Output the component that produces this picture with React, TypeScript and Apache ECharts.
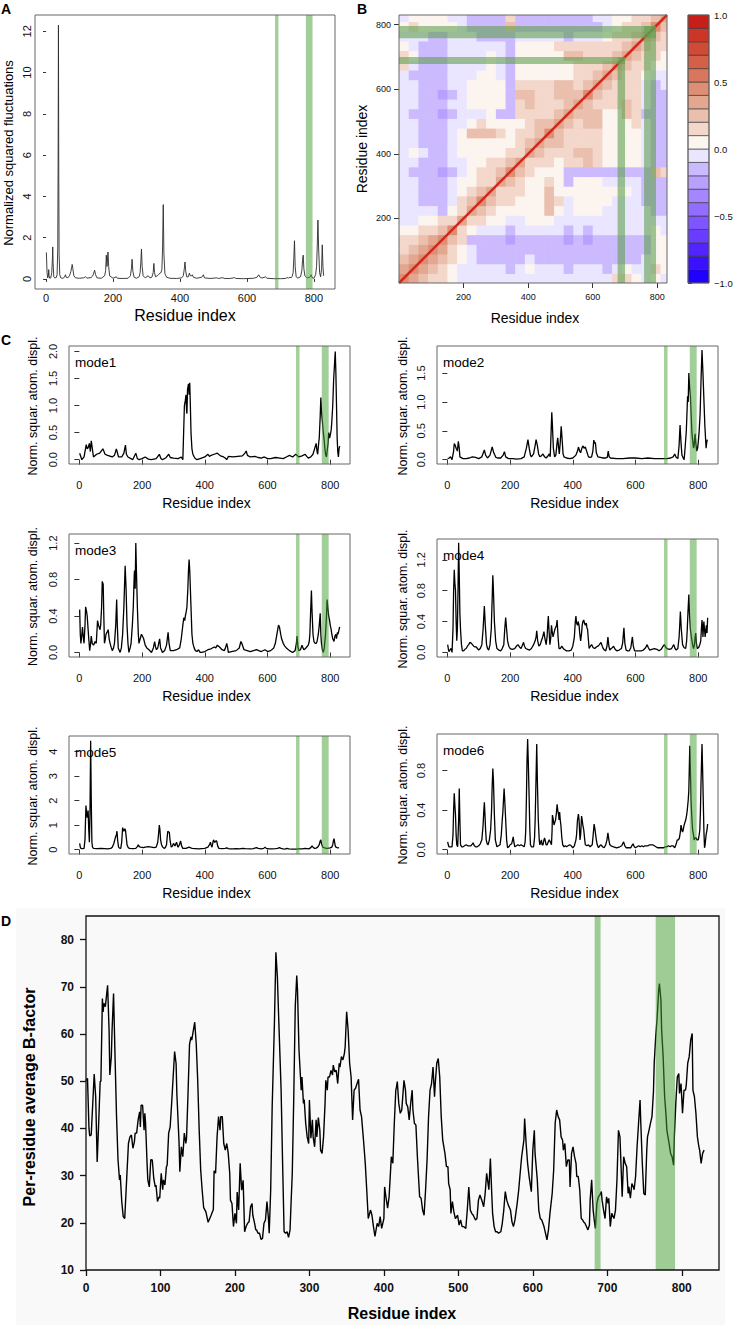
import React, { useEffect, useRef } from "react";
import * as echarts from "echarts";

const FONT = '"Liberation Sans", Arial, Helvetica, sans-serif';

// ---------------- DATA ----------------
const residueTicks = [0, 200, 400, 600, 800];
const bFactorXTicks = [0, 100, 200, 300, 400, 500, 600, 700, 800];
const bFactorYTicks = [10, 20, 30, 40, 50, 60, 70, 80];
const fluctTicks = [0, 2, 4, 6, 8, 10, 12];
const corrTicks = [200, 400, 600, 800];
const colorTicks = [-1, -0.5, 0, 0.5, 1];

// Panel A: normalized squared fluctuations
const fluctuations = [[1,1.28],[3,0.3],[5,0.05],[7,0.15],[8,0.45],[9,0.15],[11,0.03],[14,0.05],[17,0.3],[19,1.0],[20,1.55],[21,0.8],[23,0.1],[26,0.05],[30,0.06],[33,0.2],[35,1.5],[36,5.5],[37,12.3],[38,5],[39,1.2],[41,0.2],[44,0.05],[50,0.03],[55,0.08],[58,0.2],[60,0.08],[65,0.05],[70,0.15],[74,0.35],[77,0.6],[78,0.7],[80,0.5],[83,0.15],[88,0.05],[100,0.03],[112,0.05],[118,0.1],[122,0.04],[135,0.06],[141,0.2],[145,0.42],[148,0.2],[152,0.05],[165,0.03],[175,0.15],[178,0.4],[180,1.15],[182,0.6],[185,1.3],[187,0.6],[190,0.15],[200,0.03],[210,0.1],[213,0.03],[230,0.02],[245,0.03],[252,0.15],[255,0.5],[257,0.95],[259,0.4],[263,0.08],[270,0.03],[278,0.1],[281,0.3],[283,0.8],[285,1.45],[287,0.6],[290,0.15],[296,0.05],[305,0.15],[310,0.05],[316,0.08],[320,0.3],[322,0.75],[324,0.3],[327,0.1],[332,0.15],[336,0.2],[340,0.28],[343,0.3],[346,0.45],[348,1.5],[350,3.6],[352,1.2],[355,0.25],[360,0.08],[370,0.03],[390,0.02],[405,0.05],[410,0.15],[413,0.5],[415,0.82],[417,0.4],[420,0.1],[425,0.1],[428,0.28],[431,0.15],[435,0.15],[437,0.2],[440,0.08],[450,0.03],[465,0.08],[470,0.2],[473,0.05],[490,0.02],[510,0.05],[515,0.02],[528,0.06],[532,0.02],[550,0.02],[563,0.06],[567,0.02],[590,0.01],[620,0.03],[630,0.08],[635,0.2],[638,0.1],[645,0.04],[655,0.1],[660,0.03],[680,0.01],[700,0.01],[715,0.02],[720,0.06],[725,0.04],[728,0.08],[732,0.05],[735,0.12],[738,0.3],[740,1.0],[742,1.85],[744,0.6],[747,0.1],[752,0.04],[760,0.1],[764,0.4],[766,0.9],[768,1.15],[770,0.5],[773,0.15],[780,0.05],[788,0.08],[792,0.2],[795,0.05],[800,0.03],[805,0.2],[808,0.6],[810,1.6],[812,2.85],[814,1.5],[817,0.3],[820,0.1],[823,0.5],[825,1.65],[827,0.6],[829,0.15]];
const bandsA = [[684, 694], [776, 796]];

// Panel C: modes
const mode1 = [[1,0.12],[8,0.0],[15,0.05],[22,0.28],[25,0.2],[28,0.22],[32,0.3],[35,0.15],[38,0.35],[45,0.05],[55,0.1],[65,0.12],[75,0.2],[82,0.1],[90,0.08],[105,0.05],[112,0.08],[118,0.2],[125,0.05],[135,0.05],[142,0.12],[147,0.27],[150,0.1],[155,0.05],[170,0.0],[180,0.12],[185,0.02],[190,0.0],[200,0.02],[210,0.05],[220,0.01],[230,0.0],[245,0.02],[255,0.1],[260,0.02],[265,0.0],[275,0.03],[285,0.1],[290,0.04],[300,0.03],[315,0.02],[325,0.05],[330,0.0],[333,0.6],[335,1.0],[338,1.1],[340,1.2],[342,0.9],[343,0.85],[345,1.3],[348,1.4],[350,1.2],[352,1.42],[354,1.0],[356,0.5],[359,0.2],[362,0.1],[368,0.03],[375,0.0],[385,0.02],[400,0.05],[410,0.1],[415,0.06],[420,0.08],[430,0.1],[440,0.12],[450,0.07],[460,0.05],[465,0.03],[470,0.0],[475,0.06],[490,0.05],[505,0.06],[520,0.07],[528,0.12],[532,0.16],[536,0.08],[545,0.05],[560,0.06],[570,0.04],[580,0.03],[590,0.05],[600,0.02],[610,0.02],[625,0.04],[640,0.03],[650,0.02],[660,0.05],[670,0.08],[680,0.05],[690,0.1],[700,0.05],[710,0.07],[720,0.1],[725,0.06],[730,0.03],[738,0.05],[745,0.1],[750,0.2],[755,0.3],[758,0.15],[760,0.1],[763,0.3],[765,0.4],[768,0.8],[770,1.15],[772,0.9],[775,0.7],[778,0.5],[780,0.4],[783,0.2],[785,0.1],[788,0.05],[790,0.05],[793,0.3],[795,0.5],[798,0.4],[800,0.45],[803,0.55],[805,0.7],[808,1.0],[811,1.5],[814,1.8],[816,2.0],[818,1.6],[820,1.0],[822,0.4],[824,0.15],[826,0.05],[828,0.2],[830,0.25]];
const mode2 = [[1,0.02],[6,0.03],[10,0.05],[15,0.0],[20,0.15],[22,0.28],[25,0.25],[28,0.2],[32,0.15],[35,0.32],[38,0.2],[40,0.05],[50,0.02],[60,0.02],[70,0.03],[80,0.05],[90,0.04],[100,0.02],[110,0.05],[118,0.17],[122,0.08],[128,0.03],[136,0.08],[143,0.22],[148,0.12],[155,0.04],[160,0.03],[170,0.03],[178,0.08],[182,0.14],[186,0.05],[195,0.02],[210,0.02],[220,0.01],[235,0.02],[245,0.05],[252,0.2],[257,0.35],[261,0.2],[265,0.08],[268,0.05],[275,0.1],[280,0.25],[283,0.35],[287,0.25],[291,0.1],[295,0.05],[300,0.07],[305,0.1],[310,0.05],[315,0.03],[320,0.06],[325,0.1],[328,0.05],[331,0.5],[333,0.82],[335,0.6],[338,0.2],[342,0.05],[346,0.08],[350,0.3],[352,0.38],[355,0.2],[357,0.1],[360,0.3],[363,0.58],[366,0.35],[369,0.1],[372,0.05],[380,0.03],[390,0.02],[400,0.03],[410,0.08],[415,0.15],[418,0.22],[422,0.15],[425,0.12],[429,0.2],[432,0.24],[436,0.2],[440,0.22],[444,0.15],[450,0.05],[455,0.04],[460,0.05],[464,0.15],[467,0.34],[470,0.28],[472,0.3],[475,0.12],[480,0.05],[488,0.04],[495,0.03],[505,0.03],[510,0.04],[513,0.15],[516,0.05],[520,0.03],[540,0.02],[560,0.02],[580,0.03],[600,0.03],[620,0.02],[640,0.03],[660,0.02],[680,0.02],[700,0.02],[712,0.03],[720,0.05],[725,0.1],[730,0.04],[735,0.02],[739,0.25],[742,0.6],[745,0.3],[748,0.08],[752,0.03],[755,0.0],[758,0.2],[762,0.5],[764,0.8],[766,1.1],[768,1.0],[770,1.5],[772,1.3],[775,1.1],[778,0.7],[780,0.45],[783,0.3],[785,0.2],[787,0.25],[790,0.45],[792,0.3],[795,0.15],[798,0.2],[800,0.3],[803,0.5],[806,0.8],[809,1.4],[812,1.9],[815,1.5],[818,1.05],[821,0.6],[824,0.3],[825,0.2],[827,0.3],[829,0.35]];
const mode3 = [[1,0.47],[3,0.2],[5,0.1],[8,0.2],[10,0.28],[13,0.15],[15,0.1],[18,0.3],[20,0.5],[23,0.45],[25,0.4],[28,0.25],[30,0.15],[33,0.02],[36,0.1],[38,0.18],[41,0.1],[45,0.08],[48,0.1],[50,0.12],[54,0.1],[58,0.35],[61,0.3],[63,0.3],[66,0.25],[68,0.3],[71,0.5],[73,0.78],[76,0.75],[78,0.4],[80,0.1],[83,0.15],[85,0.2],[88,0.22],[92,0.25],[95,0.15],[98,0.1],[102,0.05],[105,0.02],[109,0.05],[112,0.1],[116,0.3],[119,0.58],[121,0.3],[124,0.05],[130,0.0],[134,0.05],[138,0.2],[142,0.5],[146,0.95],[149,0.7],[152,0.3],[155,0.1],[158,0.0],[162,0.05],[165,0.1],[169,0.3],[172,0.5],[175,0.85],[176,0.9],[178,0.7],[180,1.2],[182,0.9],[185,0.5],[188,0.2],[190,0.1],[194,0.15],[198,0.2],[201,0.18],[205,0.15],[210,0.08],[215,0.05],[222,0.03],[230,0.0],[236,0.05],[240,0.12],[243,0.06],[246,0.03],[250,0.05],[253,0.1],[256,0.15],[259,0.05],[265,0.0],[272,0.02],[278,0.08],[283,0.22],[286,0.1],[290,0.02],[300,0.02],[310,0.03],[320,0.05],[325,0.15],[330,0.3],[333,0.38],[336,0.35],[338,0.4],[341,0.45],[343,0.5],[346,0.7],[348,0.9],[350,1.02],[352,0.9],[354,0.7],[356,0.5],[359,0.2],[362,0.1],[366,0.05],[370,0.02],[375,0.01],[380,0.03],[385,0.0],[390,0.0],[400,0.01],[410,0.03],[420,0.04],[430,0.06],[435,0.05],[440,0.08],[447,0.06],[455,0.03],[462,0.02],[466,0.05],[470,0.1],[473,0.05],[475,0.0],[485,0.01],[500,0.02],[510,0.05],[515,0.12],[518,0.1],[522,0.06],[525,0.03],[535,0.02],[545,0.01],[555,0.02],[565,0.03],[572,0.02],[580,0.01],[592,0.03],[600,0.01],[610,0.02],[620,0.05],[625,0.1],[630,0.2],[635,0.3],[638,0.28],[642,0.2],[645,0.15],[650,0.1],[655,0.07],[660,0.05],[670,0.02],[680,0.0],[688,0.02],[692,0.1],[694,0.18],[697,0.06],[700,0.02],[705,0.03],[710,0.08],[713,0.05],[716,0.03],[720,0.04],[725,0.06],[730,0.08],[733,0.12],[735,0.2],[737,0.4],[740,0.68],[742,0.45],[745,0.2],[748,0.12],[752,0.1],[755,0.1],[758,0.12],[762,0.2],[765,0.3],[768,0.43],[770,0.2],[772,0.1],[775,0.03],[778,0.0],[781,0.05],[785,0.2],[788,0.4],[790,0.58],[792,0.5],[795,0.4],[798,0.35],[800,0.3],[803,0.25],[805,0.2],[808,0.15],[812,0.12],[815,0.18],[818,0.2],[820,0.15],[823,0.22],[825,0.2],[828,0.25],[830,0.28]];
const mode4 = [[1,0.1],[3,0.05],[5,0.01],[8,0.03],[12,0.05],[15,0.0],[18,0.3],[20,0.8],[22,1.07],[24,0.9],[26,0.8],[28,0.4],[30,0.15],[32,0.3],[34,0.8],[36,1.42],[38,1.0],[40,0.5],[42,0.3],[45,0.1],[48,0.02],[52,0.02],[56,0.04],[60,0.05],[64,0.08],[68,0.1],[72,0.13],[76,0.12],[80,0.1],[84,0.08],[88,0.07],[92,0.07],[96,0.05],[100,0.03],[105,0.05],[110,0.1],[114,0.3],[118,0.6],[121,0.35],[125,0.1],[128,0.05],[132,0.03],[136,0.1],[140,0.3],[143,0.7],[145,1.0],[147,0.8],[150,0.4],[154,0.15],[158,0.05],[164,0.03],[170,0.02],[175,0.05],[180,0.1],[183,0.3],[186,0.45],[189,0.3],[192,0.15],[196,0.08],[200,0.05],[207,0.04],[215,0.05],[220,0.08],[225,0.1],[230,0.07],[235,0.05],[240,0.1],[243,0.13],[246,0.08],[250,0.05],[256,0.04],[262,0.03],[268,0.05],[275,0.1],[280,0.15],[283,0.2],[285,0.28],[288,0.15],[292,0.08],[296,0.1],[300,0.15],[304,0.2],[308,0.27],[311,0.18],[315,0.1],[318,0.2],[320,0.35],[322,0.47],[324,0.3],[327,0.1],[330,0.2],[332,0.35],[334,0.28],[337,0.2],[340,0.25],[343,0.3],[345,0.3],[348,0.35],[350,0.42],[353,0.2],[356,0.05],[360,0.05],[365,0.08],[368,0.06],[372,0.04],[380,0.02],[388,0.02],[395,0.03],[400,0.08],[403,0.15],[405,0.2],[408,0.4],[410,0.47],[412,0.38],[415,0.35],[417,0.4],[420,0.35],[422,0.25],[425,0.15],[428,0.25],[430,0.35],[432,0.4],[435,0.42],[437,0.38],[440,0.35],[443,0.38],[445,0.32],[447,0.3],[450,0.15],[452,0.05],[456,0.08],[460,0.1],[465,0.06],[470,0.05],[475,0.07],[480,0.08],[485,0.1],[488,0.12],[490,0.13],[494,0.08],[497,0.05],[501,0.03],[505,0.02],[509,0.08],[512,0.2],[515,0.08],[518,0.03],[522,0.05],[526,0.06],[530,0.08],[535,0.04],[540,0.02],[548,0.03],[555,0.05],[559,0.12],[563,0.32],[566,0.12],[570,0.03],[575,0.02],[580,0.02],[585,0.06],[590,0.2],[593,0.08],[597,0.02],[603,0.02],[610,0.02],[618,0.02],[625,0.03],[632,0.06],[637,0.1],[641,0.06],[645,0.03],[652,0.04],[660,0.05],[668,0.04],[675,0.02],[682,0.04],[688,0.08],[692,0.1],[696,0.07],[700,0.05],[708,0.04],[715,0.05],[719,0.08],[722,0.1],[726,0.05],[730,0.03],[735,0.05],[739,0.2],[741,0.35],[743,0.53],[746,0.3],[750,0.1],[755,0.06],[760,0.05],[763,0.15],[765,0.3],[767,0.5],[770,0.75],[772,0.5],[775,0.3],[778,0.2],[780,0.15],[783,0.08],[785,0.05],[788,0.1],[790,0.2],[792,0.25],[794,0.12],[797,0.05],[801,0.06],[805,0.1],[808,0.15],[810,0.3],[812,0.42],[814,0.3],[815,0.2],[817,0.35],[818,0.4],[820,0.3],[822,0.2],[824,0.28],[826,0.35],[828,0.25],[830,0.45]];
const mode5 = [[1,0.25],[3,0.1],[5,0.05],[10,0.04],[15,0.05],[18,0.4],[21,1.8],[23,1.5],[25,1.3],[27,1.5],[28,1.6],[30,0.8],[32,0.3],[34,1.5],[36,4.45],[38,2.0],[40,0.3],[42,0.1],[45,0.05],[55,0.04],[70,0.05],[80,0.04],[90,0.03],[100,0.05],[105,0.1],[110,0.25],[115,0.5],[118,0.6],[120,0.75],[122,0.4],[125,0.1],[128,0.06],[132,0.05],[135,0.3],[138,0.9],[140,0.8],[142,0.75],[145,0.85],[147,0.8],[150,0.45],[152,0.2],[156,0.08],[160,0.05],[170,0.04],[180,0.05],[185,0.12],[188,0.2],[191,0.12],[195,0.1],[205,0.08],[210,0.1],[220,0.12],[230,0.1],[238,0.08],[245,0.1],[250,0.3],[253,0.7],[255,1.0],[257,0.8],[259,0.4],[262,0.2],[266,0.1],[270,0.05],[274,0.08],[278,0.2],[280,0.5],[282,0.75],[285,0.72],[287,0.7],[289,0.4],[293,0.1],[297,0.15],[300,0.25],[303,0.2],[305,0.15],[308,0.25],[310,0.3],[313,0.15],[315,0.1],[319,0.2],[323,0.35],[326,0.15],[330,0.05],[340,0.05],[350,0.1],[355,0.07],[360,0.05],[370,0.04],[380,0.03],[390,0.04],[400,0.05],[410,0.1],[415,0.2],[418,0.3],[420,0.2],[423,0.1],[426,0.3],[428,0.4],[430,0.32],[432,0.3],[435,0.35],[438,0.35],[441,0.15],[445,0.05],[455,0.04],[465,0.05],[470,0.07],[475,0.04],[480,0.03],[490,0.03],[500,0.04],[510,0.03],[520,0.05],[530,0.04],[545,0.03],[555,0.04],[565,0.08],[570,0.05],[580,0.03],[588,0.05],[592,0.1],[596,0.05],[605,0.03],[615,0.03],[625,0.04],[632,0.05],[638,0.08],[643,0.05],[650,0.03],[655,0.02],[662,0.05],[668,0.03],[680,0.02],[690,0.02],[700,0.03],[710,0.03],[720,0.05],[726,0.04],[732,0.03],[738,0.08],[742,0.15],[745,0.1],[750,0.05],[755,0.06],[760,0.1],[765,0.2],[768,0.35],[770,0.4],[772,0.25],[776,0.1],[780,0.08],[785,0.06],[790,0.05],[795,0.06],[800,0.07],[805,0.1],[808,0.2],[810,0.35],[812,0.45],[814,0.3],[816,0.15],[818,0.1],[822,0.08],[825,0.07],[828,0.08],[830,0.08]];
const mode6 = [[1,0.08],[3,0.05],[5,0.03],[10,0.03],[15,0.03],[18,0.15],[20,0.4],[22,0.57],[24,0.45],[26,0.35],[28,0.15],[30,0.05],[33,0.03],[35,0.03],[36,0.3],[38,0.62],[40,0.3],[42,0.05],[46,0.03],[50,0.03],[55,0.04],[60,0.05],[65,0.04],[70,0.04],[75,0.04],[80,0.06],[82,0.07],[86,0.04],[90,0.03],[95,0.03],[100,0.04],[105,0.06],[110,0.1],[114,0.25],[116,0.38],[118,0.48],[120,0.35],[122,0.2],[124,0.1],[127,0.06],[130,0.05],[134,0.1],[138,0.2],[141,0.4],[143,0.65],[145,0.82],[147,0.7],[150,0.35],[153,0.1],[158,0.03],[163,0.04],[168,0.05],[172,0.15],[175,0.3],[177,0.38],[179,0.5],[181,0.62],[183,0.5],[186,0.3],[189,0.1],[192,0.02],[196,0.03],[200,0.05],[205,0.06],[208,0.1],[210,0.13],[212,0.08],[215,0.03],[220,0.04],[225,0.05],[230,0.04],[235,0.05],[240,0.04],[245,0.03],[248,0.08],[250,0.2],[252,0.5],[254,0.9],[256,1.12],[258,0.9],[261,0.5],[263,0.2],[265,0.05],[268,0.03],[272,0.03],[275,0.03],[278,0.12],[280,0.3],[282,0.6],[285,1.07],[287,0.7],[290,0.3],[293,0.1],[295,0.05],[298,0.08],[300,0.1],[302,0.05],[305,0.05],[308,0.1],[310,0.12],[313,0.08],[315,0.05],[318,0.05],[322,0.08],[325,0.1],[328,0.08],[332,0.05],[334,0.2],[335,0.35],[337,0.32],[340,0.25],[342,0.25],[345,0.3],[348,0.38],[350,0.46],[352,0.4],[355,0.35],[356,0.3],[358,0.38],[360,0.3],[362,0.25],[365,0.12],[368,0.05],[372,0.03],[376,0.04],[380,0.03],[385,0.04],[390,0.05],[395,0.04],[400,0.02],[405,0.04],[410,0.1],[412,0.15],[415,0.3],[418,0.36],[420,0.3],[423,0.1],[425,0.15],[428,0.34],[430,0.3],[432,0.25],[435,0.2],[438,0.1],[440,0.05],[445,0.04],[450,0.05],[455,0.03],[462,0.05],[465,0.15],[468,0.26],[471,0.2],[475,0.1],[478,0.05],[482,0.02],[486,0.04],[490,0.05],[495,0.03],[500,0.02],[505,0.05],[509,0.1],[512,0.17],[515,0.1],[518,0.05],[522,0.04],[530,0.03],[540,0.02],[550,0.03],[556,0.04],[562,0.08],[566,0.04],[570,0.02],[578,0.02],[585,0.02],[588,0.04],[592,0.06],[596,0.03],[600,0.02],[605,0.03],[610,0.04],[615,0.03],[620,0.04],[625,0.03],[630,0.04],[635,0.04],[640,0.04],[645,0.05],[650,0.05],[655,0.05],[660,0.04],[665,0.03],[670,0.02],[680,0.02],[690,0.02],[695,0.03],[700,0.03],[705,0.04],[710,0.03],[715,0.04],[720,0.04],[725,0.02],[730,0.06],[733,0.1],[737,0.1],[740,0.12],[743,0.18],[745,0.25],[748,0.2],[750,0.18],[752,0.2],[755,0.25],[758,0.28],[760,0.3],[763,0.35],[765,0.4],[768,0.5],[770,0.6],[772,0.9],[773,1.05],[775,0.8],[777,0.5],[780,0.3],[782,0.2],[785,0.15],[787,0.1],[790,0.12],[793,0.12],[796,0.1],[800,0.1],[803,0.15],[805,0.2],[807,0.4],[809,0.7],[811,0.95],[812,1.07],[814,0.8],[816,0.5],[818,0.2],[820,0.02],[822,0.05],[825,0.15],[828,0.2],[830,0.26]];
const modeNames = ["mode1", "mode2", "mode3", "mode4", "mode5", "mode6"];
const modeSeries = [mode1, mode2, mode3, mode4, mode5, mode6];
const modeYRange = [[-0.08, 2.1], [-0.074, 1.97], [-0.05, 1.3], [-0.06, 1.47], [-0.18, 4.64], [-0.043, 1.17]];
const modeYTicks = [[0, 0.5, 1, 1.5, 2], [0, 0.5, 1, 1.5], [0, 0.4, 0.8, 1.2], [0, 0.4, 0.8, 1.2], [0, 1, 2, 3, 4], [0, 0.4, 0.8]];
const modeYDecimals = [1, 1, 1, 1, 0, 1];
const bandsModes = [[691, 702], [773, 795]];

// Panel B: residue cross-correlation (lower triangle, 30-residue cells; '0'-'9' = +0.05..+0.95, 'a'-'e' = -0.05..-0.45)
const corrEdges = [0,30,60,90,120,150,180,210,240,270,300,330,360,390,420,450,480,510,540,570,600,630,660,690,720,750,780,810,830];
const corrLower = [
  "4",
  "34",
  "234",
  "1234",
  "11234",
  "001124",
  "aa00113",
  "aaaab013",
  "aabbba124",
  "aabbba0123",
  "aabbba00113",
  "abbbcba01124",
  "aabbbaa001123",
  "a0abba00000113",
  "aabbba000000123",
  "aabbba0222101124",
  "aabbbaa0100001223",
  "abbbcbaaa0bb111123",
  "aabbbaa0000b1211123",
  "aabbcba0000b22112224",
  "aabbbaa0000b111122123",
  "abbbbaaa00ab0000001123",
  "1abbbaaaa0ab00000011123",
  "10bbbaaaa0ab000002211123",
  "0abbbaaaaaab0000111111123",
  "aaabbaaabbbbaaaaabaaa01123",
  "010000abbbb2bbbbbbbbba01124",
  "a0000aabbbb1bbbbbbbbaa001123",
];
const corrDiagonal = [[0, 0], [830, 830]];
const corrBands = [[677, 700, 0, 700], [0, 700, 678, 700], [759, 796, 0, 796], [0, 796, 758, 796]];
const colorBreaks = [-1, -0.9, -0.8, -0.7, -0.6, -0.5, -0.4, -0.3, -0.2, -0.1, 0, 0.1, 0.2, 0.3, 0.4, 0.5, 0.6, 0.7, 0.8, 0.9, 1];
const colorLevels = ["#2000ff","#3a10ff","#5224ff","#6a3cff","#7f55ff","#936dff","#a686ff","#b8a0ff","#ccbaff","#ebe6ff","#fcf4ef","#f3d7ca","#eabfad","#e3a68f","#de8e74","#d8775c","#d36047","#cf4b35","#cc3626","#c81e1a"];

// Panel D: per-residue average B-factor
const bFactor = [[0,50.1],[2,50.6],[4,40],[5,38.4],[7,38.6],[11,51.5],[13,46.7],[15,32.9],[17,41],[19,49.9],[20,50],[22,67.5],[23,64.7],[24,66.5],[26,65.8],[29,70.3],[31,60.8],[32,51.3],[34,55.2],[35,60.8],[37,68.6],[39,55.2],[41,42.5],[43,33.3],[45,29.1],[46,30.1],[48,24.5],[50,21.3],[52,20.9],[55,30.5],[57,36.8],[59,38.2],[61,38.6],[63,35.8],[65,37.2],[66,39],[68,39],[70,41.8],[72,43.5],[73,40.3],[74,44.9],[76,44.9],[78,39.6],[79,43.2],[80,41.1],[82,32.6],[83,29.1],[85,27.6],[87,33.4],[89,33.3],[91,29.4],[93,27.6],[94,28],[96,24.5],[98,25.5],[99,25.2],[101,30.5],[103,27],[104,29.1],[106,28],[108,31.9],[109,32.2],[111,39],[113,40.3],[115,45.3],[116,48.1],[119,56.3],[121,53.7],[122,47.4],[125,36.8],[126,30.8],[128,36.1],[130,34],[132,39],[134,36.8],[135,37.9],[137,47.4],[139,57.8],[141,59.4],[142,58.7],[146,62.5],[148,58],[150,50.2],[152,39.6],[154,31.2],[156,26.9],[158,23.2],[161,22.3],[164,20.1],[168,21.6],[171,22.8],[172,31],[174,30.5],[176,38.2],[178,42.5],[180,39.6],[181,42.5],[183,42.5],[185,36.8],[187,35.4],[189,36.8],[191,34.7],[193,30.5],[194,24.8],[196,24.1],[198,19.2],[200,22],[202,19.9],[203,26.5],[205,22.7],[207,32.6],[209,26.9],[211,29],[213,18.1],[215,19.2],[217,19.9],[219,20.2],[221,23.4],[223,24.1],[224,21.6],[226,20.2],[228,18.5],[229,18.5],[231,17.8],[233,17.8],[235,16.5],[237,16.7],[239,19.9],[241,20.6],[243,24.5],[245,20.9],[246,17.8],[248,26.9],[250,44.6],[253,62.2],[255,77.3],[257,72],[259,62.2],[262,48.1],[264,32.6],[266,18.1],[268,17.8],[270,18.1],[272,16.9],[274,18.5],[275,22.7],[277,30.5],[279,46.7],[281,65.8],[283,72.4],[284,69.3],[286,56.6],[288,50.9],[289,48.1],[290,50.9],[292,45.3],[293,46.1],[295,41.1],[297,38.2],[299,36.8],[300,46],[302,37.9],[304,41.8],[305,38.2],[307,36.1],[309,41.8],[310,38.2],[312,42.3],[314,39.6],[315,35.4],[317,34.7],[319,38.2],[321,45.3],[322,50.2],[324,48.1],[325,50.9],[327,50.9],[329,52.3],[331,51.3],[332,53.4],[334,52],[336,52.3],[338,49.5],[340,53.8],[341,53],[343,55.2],[345,54.5],[347,55.9],[348,57.3],[350,64.7],[352,60.8],[354,53.8],[356,50.9],[358,41.8],[360,48.1],[362,48.5],[364,49.5],[366,50.4],[368,43.9],[370,42.5],[373,36.8],[375,32.6],[377,26.9],[379,20.9],[382,22.7],[384,21.6],[386,19.2],[388,17.1],[391,19.9],[393,19.2],[395,21.3],[397,18.8],[400,20.9],[401,27.6],[403,25.2],[405,23.1],[407,25.5],[408,28.3],[410,34],[412,32.6],[414,41.1],[416,48.1],[417,48.8],[418,49.9],[420,45.3],[422,43.2],[424,43.9],[425,46],[427,50.2],[429,48.1],[430,45.3],[432,44.6],[434,41.8],[436,45.3],[438,48.1],[439,43.9],[441,41.1],[443,40.7],[445,34],[447,28.3],[448,25.5],[450,25.2],[452,22.7],[454,21.6],[456,27],[458,33.3],[460,42.5],[462,48.1],[464,49.5],[466,53],[468,46.7],[469,49.5],[471,53.8],[473,54.8],[475,50.9],[477,42.5],[479,37.5],[482,34.7],[484,31.9],[486,31.9],[487,28.3],[489,27],[490,22],[492,24.5],[494,22.3],[496,20.9],[499,21.6],[501,19.5],[503,20.6],[505,19.2],[507,19.2],[510,18.8],[512,22.7],[514,27.6],[516,22.7],[518,22],[520,21.6],[523,20.6],[525,20.9],[527,24.8],[529,25.9],[532,24.5],[534,23.4],[536,26.2],[538,30.5],[541,27],[543,33.6],[545,25.5],[546,22],[548,19.2],[550,18.1],[552,18.1],[554,17.8],[557,18.1],[559,19.9],[561,22.7],[563,26.6],[565,24.8],[567,23.8],[570,22.7],[572,20.2],[574,19.2],[576,20.6],[579,24.1],[581,26.9],[583,30.5],[585,34],[588,37.5],[589,42.1],[591,36.8],[593,32.6],[595,29.8],[598,26.6],[600,35.4],[602,39.6],[603,34.7],[606,29.1],[608,22.7],[610,20.9],[612,20.6],[615,19.2],[617,17.8],[619,16.4],[621,18.5],[623,22],[626,26.2],[628,31.2],[630,41.1],[632,43.9],[634,42.5],[636,41.8],[638,38.2],[640,37.5],[641,35.4],[643,36.8],[645,31.9],[647,33.3],[649,33.3],[650,27.6],[652,34.7],[654,36.1],[656,34],[658,32.6],[659,29.8],[661,29.8],[663,27],[665,20.9],[667,20.6],[668,20.2],[670,19.9],[672,19.2],[674,18.5],[676,19.5],[677,24.8],[679,29.1],[681,22.7],[683,19.9],[684,18.8],[686,24.1],[688,25.5],[690,25.9],[692,26.6],[693,24.8],[695,22.7],[697,20.9],[699,25.5],[701,24.1],[702,25.2],[704,19.2],[706,22],[709,20.9],[711,22.7],[713,29.1],[715,39.6],[717,38.2],[719,29.8],[720,25.5],[722,34],[724,32.6],[726,31.9],[728,26.2],[729,27.6],[731,25.2],[733,28.3],[735,27.6],[736,27],[738,29.8],[740,36.1],[742,41.1],[744,46],[745,41.1],[747,32.6],[749,26.2],[751,25.9],[753,35.4],[754,38.2],[756,39.6],[758,41.1],[760,42.5],[762,47.8],[763,53.8],[765,59.4],[767,63.6],[769,69.3],[770,70.7],[772,67.2],[773,60.8],[775,55.2],[777,46.7],[779,42.5],[780,39.6],[783,36.8],[785,34.7],[787,34],[789,32.2],[790,38.2],[792,45.3],[794,50.9],[796,51.6],[797,47.4],[799,49.5],[801,43.2],[803,48.1],[805,48.1],[806,49.1],[808,53.8],[810,55.2],[812,58.7],[814,60.1],[815,48.1],[817,46.7],[819,43.2],[821,38.2],[823,36.1],[824,35.4],[826,32.6],[828,34.7],[830,35.4]];
const bandsD = [[683, 691], [765, 791]];

// ---------------- LAYOUT ----------------
const GA = { left: 35, top: 15, width: 300, height: 274 };
const GB = { left: 399, top: 15, width: 268, height: 268 };
const GCB = { left: 688, top: 15, width: 21, height: 268 };
const GM = [
  { left: 69, top: 346, width: 281, height: 118 },
  { left: 437, top: 346, width: 281, height: 118 },
  { left: 69, top: 534, width: 281, height: 123 },
  { left: 437, top: 539, width: 281, height: 118 },
  { left: 69, top: 736, width: 281, height: 118 },
  { left: 437, top: 734, width: 281, height: 120 },
];
const GD = { left: 86, top: 916, width: 633, height: 354 };

const LINE_BAND = "rgba(70,160,50,0.5)";
const HEAT_BAND = "rgba(95,160,80,0.6)";

function decodeLevel(ch: string) {
  const c = ch.charCodeAt(0);
  if (c >= 48 && c <= 57) return (c - 48 + 0.5) / 10;
  return -((c - 97) + 0.5) / 10;
}
function levelColor(v: number) {
  let i = 0;
  while (i < colorLevels.length - 1 && v > colorBreaks[i + 1]) i++;
  return colorLevels[i];
}
function buildCorrCells() {
  const cells: number[][] = [];
  for (let i = 0; i < corrLower.length; i++) {
    const row = corrLower[i];
    for (let j = 0; j < row.length; j++) {
      const v = decodeLevel(row[j]);
      cells.push([corrEdges[j], corrEdges[j + 1], corrEdges[i], corrEdges[i + 1], v]);
      if (i !== j) cells.push([corrEdges[i], corrEdges[i + 1], corrEdges[j], corrEdges[j + 1], v]);
    }
  }
  return cells;
}

function txt(text: string, x: number, y: number, font: string, align = "center", rot = 0) {
  return {
    type: "text", x, y, rotation: rot, silent: true, z: 50,
    style: { text, font, fill: "#000", textAlign: align, align, textVerticalAlign: "middle", verticalAlign: "middle" },
  };
}

function axisR(gridIndex: number, min: number, max: number, ticks: number[], o: any = {}) {
  return {
    type: "value", gridIndex, min, max,
    axisLine: { show: false }, splitLine: { show: false },
    axisTick: { show: true, customValues: ticks, length: o.tickLen ?? 4, lineStyle: { color: o.tickColor ?? "#333", width: o.tickWidth ?? 1 } },
    axisLabel: {
      show: true, customValues: ticks, margin: o.margin ?? 4, fontSize: o.fontSize ?? 11, fontFamily: FONT,
      color: o.color ?? "#111", fontWeight: o.fontWeight ?? "normal", rotate: o.rotate ?? 0,
      formatter: o.formatter ?? ((v: number) => String(v)),
    },
    position: o.position,
  };
}

function bandSeries(xi: number, yi: number, bands: number[][], color: string) {
  return {
    type: "custom", xAxisIndex: xi, yAxisIndex: yi, z: 3, silent: true,
    data: bands,
    encode: { x: [0, 1] },
    renderItem: (params: any, api: any) => {
      const cs = params.coordSys;
      const a = api.coord([api.value(0), 0]);
      const b = api.coord([api.value(1), 0]);
      return { type: "rect", shape: { x: a[0], y: cs.y, width: b[0] - a[0], height: cs.height }, style: { fill: color } };
    },
  };
}

function buildOption() {
  const grids = [GA, GB, GCB, ...GM, GD].map((g, i) => ({
    ...g, show: true, containLabel: false, backgroundColor: "transparent", z: 5,
    borderColor: i === 9 ? "#111" : "#666", borderWidth: i === 9 ? 1.3 : 1,
  }));

  const xAxes: any[] = [
    axisR(0, -33, 863, residueTicks, { margin: 3, tickLen: 3, fontSize: 11 }),
    axisR(1, 0, 830, corrTicks, { margin: 9, tickLen: 5, fontSize: 9 }),
    { type: "value", gridIndex: 2, min: 0, max: 1, show: false },
  ];
  const yAxes: any[] = [
    axisR(0, -0.49, 12.79, fluctTicks, { margin: 3, tickLen: 3, fontSize: 11, rotate: 90 }),
    axisR(1, 0, 830, corrTicks, { margin: 8, tickLen: 5, fontSize: 9 }),
    axisR(2, -1, 1, colorTicks, {
      margin: 5, tickLen: 4, fontSize: 9.5, position: "right",
      formatter: (v: number) => (v < 0 ? "\u2212" + Math.abs(v).toFixed(1) : Math.abs(v).toFixed(1)),
    }),
  ];
  for (let m = 0; m < 6; m++) {
    const dec = modeYDecimals[m];
    xAxes.push(axisR(3 + m, -33, 863, residueTicks, { margin: 15.5, tickLen: 5, fontSize: 11 }));
    yAxes.push(axisR(3 + m, modeYRange[m][0], modeYRange[m][1], modeYTicks[m], {
      margin: 10.5, tickLen: 5, fontSize: 11, rotate: 90, formatter: (v: number) => v.toFixed(dec),
    }));
  }
  xAxes.push(axisR(9, 0, 850, bFactorXTicks, { margin: 12, tickLen: 6, fontSize: 12, fontWeight: "bold", tickColor: "#111", tickWidth: 1.3 }));
  yAxes.push(axisR(9, 10, 85, bFactorYTicks, { margin: 12, tickLen: 6, fontSize: 12, fontWeight: "bold", tickColor: "#111", tickWidth: 1.3 }));

  const series: any[] = [];
  // A
  series.push({ type: "line", xAxisIndex: 0, yAxisIndex: 0, data: fluctuations, showSymbol: false, symbol: "none", silent: true, lineStyle: { color: "#2a2a2a", width: 0.9 }, z: 2 });
  series.push(bandSeries(0, 0, bandsA, LINE_BAND));
  // B heatmap
  series.push({
    type: "custom", xAxisIndex: 1, yAxisIndex: 1, z: 2, silent: true, clip: true,
    data: buildCorrCells(), encode: { x: [0, 1], y: [2, 3] },
    renderItem: (params: any, api: any) => {
      const p0 = api.coord([api.value(0), api.value(3)]);
      const p1 = api.coord([api.value(1), api.value(2)]);
      return { type: "rect", shape: { x: p0[0], y: p0[1], width: p1[0] - p0[0] + 0.6, height: p1[1] - p0[1] + 0.6 }, style: { fill: levelColor(api.value(4)) } };
    },
  });
  series.push({ type: "line", xAxisIndex: 1, yAxisIndex: 1, data: corrDiagonal, showSymbol: false, symbol: "none", silent: true, lineStyle: { color: "#d02a1c", width: 2.5 }, z: 2 });
  series.push({
    type: "custom", xAxisIndex: 1, yAxisIndex: 1, z: 3, silent: true, clip: true,
    data: corrBands, encode: { x: [0, 1], y: [2, 3] },
    renderItem: (params: any, api: any) => {
      const p0 = api.coord([api.value(0), api.value(3)]);
      const p1 = api.coord([api.value(1), api.value(2)]);
      return { type: "rect", shape: { x: p0[0], y: p0[1], width: p1[0] - p0[0], height: p1[1] - p0[1] }, style: { fill: HEAT_BAND } };
    },
  });
  // colour key
  series.push({
    type: "custom", xAxisIndex: 2, yAxisIndex: 2, z: 2, silent: true,
    data: colorLevels.map((c, i) => [0, 1, colorBreaks[i], colorBreaks[i + 1], i]),
    encode: { x: [0, 1], y: [2, 3] },
    renderItem: (params: any, api: any) => {
      const p0 = api.coord([api.value(0), api.value(3)]);
      const p1 = api.coord([api.value(1), api.value(2)]);
      return { type: "rect", shape: { x: p0[0], y: p0[1], width: p1[0] - p0[0], height: p1[1] - p0[1] }, style: { fill: colorLevels[api.value(4)], stroke: "#333", lineWidth: 0.6 } };
    },
  });
  // C modes
  for (let m = 0; m < 6; m++) {
    series.push({ type: "line", xAxisIndex: 3 + m, yAxisIndex: 3 + m, data: modeSeries[m], showSymbol: false, symbol: "none", silent: true, lineStyle: { color: "#000", width: 1.3 }, z: 2 });
    series.push(bandSeries(3 + m, 3 + m, bandsModes, LINE_BAND));
  }
  // D
  series.push({ type: "line", xAxisIndex: 9, yAxisIndex: 9, data: bFactor, showSymbol: false, symbol: "none", silent: true, lineStyle: { color: "#000", width: 1.4 }, z: 2 });
  series.push(bandSeries(9, 9, bandsD, LINE_BAND));

  const B14 = `bold 14px ${FONT}`;
  const graphics: any[] = [
    { type: "rect", silent: true, z: -100, shape: { x: 16, y: 908, width: 709, height: 417 }, style: { fill: "#f9f9f9" } },
    txt("A", 1, 9, B14, "left"),
    txt("B", 357, 9, B14, "left"),
    txt("C", 1, 340, B14, "left"),
    txt("D", 1, 921, B14, "left"),
    txt("Normalized squared fluctuations", 8, 153, `13px ${FONT}`, "center", Math.PI / 2),
    txt("Residue index", 185, 315, `16px ${FONT}`),
    txt("Residue index", 362, 149, `14px ${FONT}`, "center", Math.PI / 2),
    txt("Residue index", 535, 318, `14px ${FONT}`),
    txt("Per-residue average B-factor", 29, 1097, `bold 16px ${FONT}`, "center", Math.PI / 2),
    txt("Residue index", 402, 1313, `bold 16px ${FONT}`),
  ];
  GM.forEach((g, m) => {
    const titleX = m % 2 === 0 ? 33 : 403;
    graphics.push(txt("Norm. squar. atom. displ.", titleX, g.top + g.height / 2 + 1, `12.5px ${FONT}`, "center", Math.PI / 2));
    graphics.push(txt("Residue index", g.left + g.width / 2 - 3, g.top + g.height + 39, `14px ${FONT}`));
    graphics.push(txt(modeNames[m], g.left + 6, g.top + 16, `13.5px ${FONT}`, "left"));
  });

  return {
    animation: false,
    backgroundColor: "#ffffff",
    textStyle: { fontFamily: FONT },
    grid: grids,
    xAxis: xAxes,
    yAxis: yAxes,
    series,
    graphic: { elements: graphics },
  };
}

export default function App() {
  const ref = useRef<HTMLDivElement>(null);
  useEffect(() => {
    const chart = echarts.init(ref.current as HTMLDivElement, null, { renderer: "svg", width: 736, height: 1325 });
    chart.setOption(buildOption() as any);
    return () => chart.dispose();
  }, []);
  return <div ref={ref} style={{ position: "absolute", left: 0, top: 0, width: 736, height: 1325, background: "#fff" }} />;
}
